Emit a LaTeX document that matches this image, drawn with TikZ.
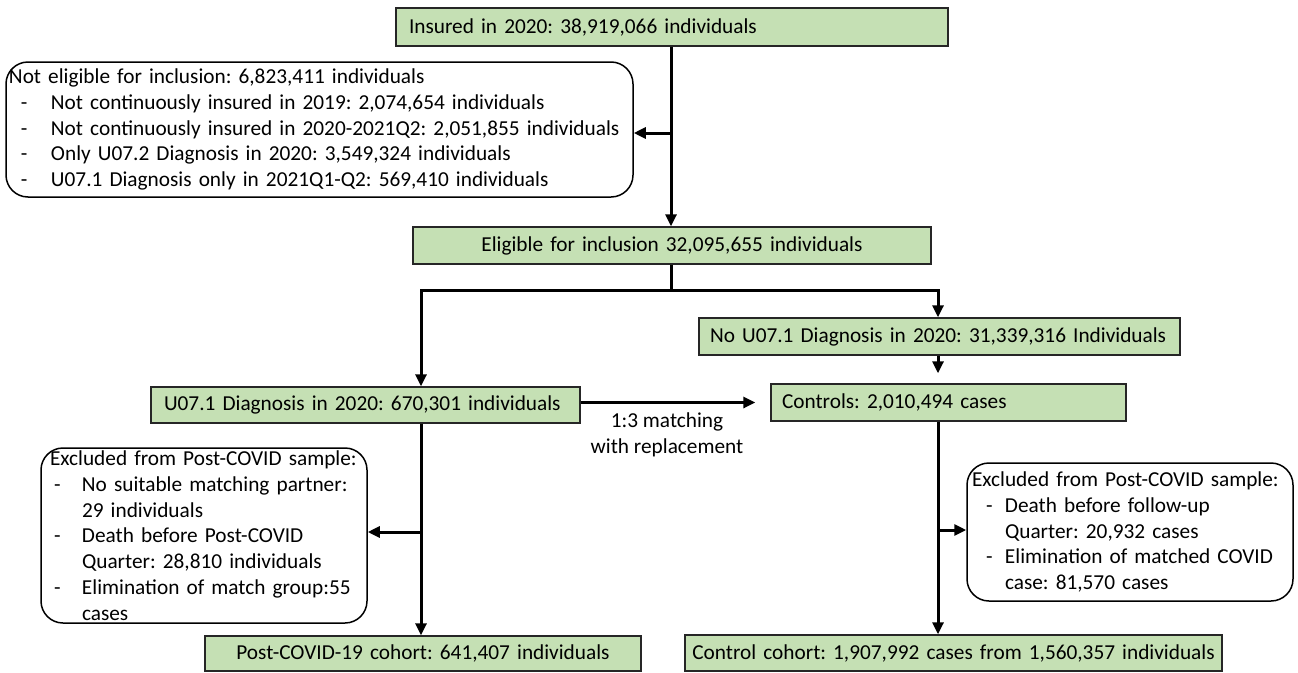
\documentclass[tikz,border=0pt]{standalone}
\usepackage{fontspec}
\setmainfont{Carlito}
\usetikzlibrary{arrows.meta}
\definecolor{boxgreen}{HTML}{C5E0B4}
\definecolor{boxline}{HTML}{262626}
\newcommand{\dashln}[3]{\hspace*{#1}\makebox[#2][l]{-}#3}
\frenchspacing
\begin{document}
\frenchspacing
\begin{tikzpicture}[x=1pt,y=-1pt,
  txt/.style={font=\fontsize{21.3pt}{25.8pt}\selectfont\frenchspacing},
  gbox/.style={txt, draw=boxline, line width=1.4pt, fill=boxgreen, inner ysep=0pt},
  rbox/.style={txt, draw=black, line width=1.5pt, rounded corners=22pt, inner ysep=0pt, align=left},
  ln/.style={line width=3pt},
  arr/.style={line width=3pt, -{Triangle[length=12pt,width=11pt]}}]
\useasboundingbox (0,0) rectangle (1298,672);

% green boxes
\node[gbox, text width=526pt, inner xsep=13pt, minimum height=38pt, align=left] (ins) at (672,27) {Insured in 2020: 38,919,066 individuals};
\node[gbox, text width=498pt, inner xsep=10pt, minimum height=37pt, align=center] (elig) at (672,245.5) {Eligible for inclusion 32,095,655 individuals};
\node[gbox, text width=459pt, inner xsep=11pt, minimum height=37pt, align=left] (nou) at (939.5,336.5) {No U07.1 Diagnosis in 2020: 31,339,316 Individuals};
\node[gbox, text width=333pt, inner xsep=11pt, minimum height=37pt, align=left] (ctrl) at (948.5,402.5) {Controls: 2,010,494 cases};
\node[gbox, text width=403pt, inner xsep=13pt, minimum height=36pt, align=left] (u071) at (365.5,405) {U07.1 Diagnosis in 2020: 670,301 individuals};
\node[gbox, text width=416pt, inner xsep=10pt, minimum height=35pt, align=center] (pc) at (423,653.5) {Post-COVID-19 cohort: 641,407 individuals};
\node[gbox, text width=525pt, inner xsep=6pt, minimum height=36pt, align=center] (cc) at (953.5,653) {Control cohort: 1,907,992 cases from 1,560,357 individuals};

% rounded exclusion boxes
\node[rbox, text width=621pt, inner xsep=3pt, minimum height=135pt] (nelig) at (319.5,129.5) {Not eligible for inclusion: 6,823,411 individuals\\
\dashln{12pt}{30pt}{Not continuously insured in 2019: 2,074,654 individuals}\\
\dashln{12pt}{30pt}{Not continuously insured in 2020-2021Q2: 2,051,855 individuals}\\
\dashln{12pt}{30pt}{Only U07.2 Diagnosis in 2020: 3,549,324 individuals}\\
\dashln{12pt}{30pt}{U07.1 Diagnosis only in 2021Q1-Q2: 569,410 individuals}};

\node[rbox, text width=308pt, inner xsep=9pt, minimum height=175pt] (lexc) at (204,535.5) {Excluded from Post-COVID sample:\\
\dashln{4pt}{28pt}{No suitable matching partner:}\\
\hspace*{32pt}29 individuals\\
\dashln{4pt}{28pt}{Death before Post-COVID}\\
\hspace*{32pt}Quarter: 28,810 individuals\\
\dashln{4pt}{28pt}{Elimination of match group:55}\\
\hspace*{32pt}cases};

\node[rbox, text width=316pt, inner xsep=5pt, minimum height=138pt] (rexc) at (1130,532) {Excluded from Post-COVID sample:\\
\dashln{14pt}{19pt}{Death before follow-up}\\
\hspace*{33pt}Quarter: 20,932 cases\\
\dashln{14pt}{19pt}{Elimination of matched COVID}\\
\hspace*{33pt}case: 81,570 cases};

\node[txt, align=center, inner sep=0pt] (lbl) at (667,435) {1:3 matching\\with replacement};

% helper coordinates
\coordinate (cL) at (421,0);
\coordinate (cR) at (938,0);
\coordinate (cM) at (671,0);
\coordinate (j1) at (671,133);
\coordinate (j2) at (671,290);
\coordinate (j3) at (421,532);
\coordinate (j4) at (938,530);

% connectors
\draw[arr] (ins.south -| cM) -- (elig.north -| cM);
\draw[arr] (j1) -- (j1 -| nelig.east);
\draw[ln] (elig.south -| cM) -- (j2);
\draw[arr] (j2) -| (u071.north -| cL);
\draw[arr] (j2) -| (nou.north -| cR);
\draw[arr, shorten >=10pt] (nou.south -| cR) -- (ctrl.north -| cR);
\draw[arr, shorten >=15pt] (ctrl.west -| u071.east) -- (ctrl.west);
\draw[arr] (u071.south -| cL) -- (pc.north -| cL);
\draw[arr] (j3) -- (j3 -| lexc.east);
\draw[arr] (ctrl.south -| cR) -- (cc.north -| cR);
\draw[arr] (j4) -- (j4 -| rexc.west);
\end{tikzpicture}
\end{document}
